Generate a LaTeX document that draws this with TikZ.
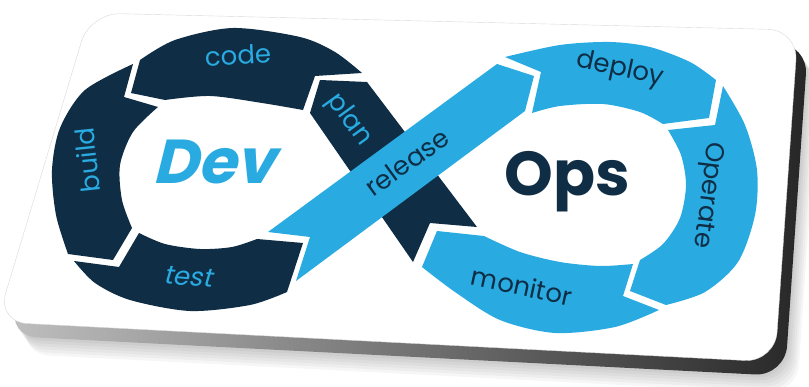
\documentclass[tikz,border=0pt]{standalone}
\usepackage{fontspec}
\setmainfont{Poppins}
\definecolor{opsblue}{HTML}{29ABE2}
\definecolor{devnavy}{HTML}{0F2E46}
\newcommand{\cardpath}{(90,13) -- (798,30) -- (775,362) -- (-3,322) -- cycle}
\begin{document}
\begin{tikzpicture}[x=1pt, y=-1pt,
    lbl/.style={inner sep=0pt, font=\fontsize{26}{30}\selectfont},
    lbldark/.style={lbl, text=opsblue},
    lbllight/.style={lbl, text=devnavy},
    bigword/.style={inner sep=0pt, font=\fontsize{62}{68}\selectfont\bfseries}]
  \useasboundingbox (0,0) rectangle (809,387);
  % card: soft shadow, rim, face
  \foreach \k in {1,...,6}{
    \fill[black, opacity=0.035, rounded corners=30, shift={(10+2*\k,14+3*\k)}] \cardpath;
  }
  \shade[left color=black!25, right color=black!85, rounded corners=30, shift={(10,14)}] \cardpath;
  \fill[white, draw=black!15, rounded corners=30] \cardpath;

  % Dev lobe
  \fill[devnavy] plot[smooth] coordinates {(140,60) (175,40) (233,28) (300,37) (335,52) (362,73)}
    -- (315,76) -- (303,110)
    -- plot[smooth] coordinates {(303,110) (262,103) (210,96) (165,100)}
    -- (131,93) -- cycle; % code
  \fill[devnavy] (133,64) -- (124,97) -- (158,107)
    -- plot[smooth] coordinates {(158,107) (133,132) (120,165) (122,200) (132,228)}
    -- (113,260) -- (68,254)
    -- plot[smooth] coordinates {(68,254) (56,215) (52,170) (60,128) (85,90) (133,64)}
    -- cycle; % build
  \fill[devnavy] (74,261) -- (119,267) -- (139,233)
    -- plot[smooth] coordinates {(139,233) (165,244) (200,249) (232,247) (257,239)}
    -- (303,243) -- (287,292)
    -- plot[smooth] coordinates {(287,292) (250,305) (190,311) (130,300) (95,283) (74,261)}
    -- cycle; % test
  \fill[devnavy] (320,80) -- (367,82) -- (477,227) -- (430,223) -- (413,262) -- (310,113) -- cycle; % plan

  % Ops lobe
  \fill[opsblue] (268,232) -- (310,237) -- (296,281) -- (525,111) -- (534,76) -- (497,64) -- cycle; % release
  \fill[opsblue] (505,57) -- (541,72) -- (532,113)
    -- plot[smooth] coordinates {(532,113) (560,106) (603,104) (640,112) (663,124)}
    -- (709,118) -- (716,80)
    -- plot[smooth] coordinates {(716,80) (690,62) (650,47) (610,42) (560,45) (505,57)}
    -- cycle; % deploy
  \fill[opsblue] (723,86) -- (715,125) -- (668,130)
    -- plot[smooth] coordinates {(668,130) (681,155) (686,185) (680,218) (663,244) (640,260)}
    -- (630,291) -- (666,305)
    -- plot[smooth] coordinates {(666,305) (705,292) (738,262) (755,215) (757,170) (745,125) (723,86)}
    -- cycle; % operate
  \fill[opsblue] (633,264) -- (623,296) -- (659,310)
    -- plot[smooth] coordinates {(659,310) (615,327) (555,333) (500,320) (455,292) (422,267)}
    -- (437,231) -- (484,236)
    -- plot[smooth] coordinates {(484,236) (520,252) (560,262) (600,266) (633,264)}
    -- cycle; % monitor

  % labels
  \node(code) [lbldark, rotate=3] at (238,55) {code};
  \node(build) [lbldark, rotate=96] at (87,160) {build};
  \node(test) [lbldark, rotate=-5, xslant=0.2] at (190,277) {test};
  \node(plan) [lbldark, rotate=-54] at (349,120) {plan};
  \node(release) [lbllight, rotate=36] at (407,162) {release};
  \node(deploy) [lbllight, rotate=-12] at (620,70) {deploy};
  \node(operate) [lbllight, rotate=-97] at (707,195) {Operate};
  \node(monitor) [lbllight, rotate=-12] at (522,286) {monitor};
  \node(dev) [bigword, text=opsblue, xslant=0.25] at (219,162) {Dev};
  \node(ops) [bigword, text=devnavy] at (567,182) {Ops};
\end{tikzpicture}
\end{document}
